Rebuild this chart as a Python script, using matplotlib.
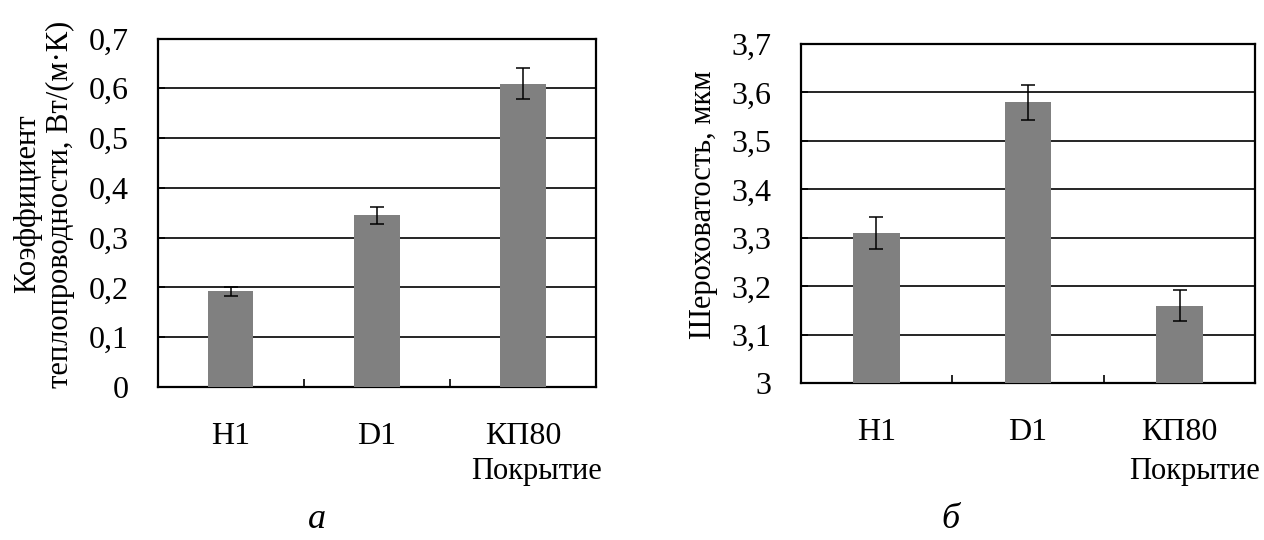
import numpy as np
import matplotlib.pyplot as plt

plt.rcParams["font.family"] = ["Liberation Serif", "DejaVu Serif"]
plt.rcParams.update({'font.size': 23})

coatings = ["H1", "D1", "КП80"]

# thermal conductivity, W/(m*K)
conductivity = [0.192, 0.345, 0.609]
conductivity_err = [0.009, 0.0175, 0.031]

# roughness, um
roughness = [3.31, 3.58, 3.16]
roughness_err = [0.033, 0.036, 0.032]

bar_color = '#808080'
x = np.arange(len(coatings))

fig = plt.figure(figsize=(12.64, 5.4), dpi=100)
ax1 = fig.add_axes([0.1248, 0.2833, 0.3467, 0.6454])
ax2 = fig.add_axes([0.6335, 0.2902, 0.3596, 0.6283])


def draw_panel(ax, values, errors, ymin, ymax):
    ax.bar(x, np.array(values) - ymin, bottom=ymin, width=0.31, color=bar_color, zorder=3)
    ax.errorbar(x, values, yerr=errors, fmt='none', ecolor='black', elinewidth=1.1,
                capsize=5, capthick=1.1, zorder=4)
    ax.set_xlim(-0.5, 2.5)
    ax.set_ylim(ymin, ymax)
    ax.set_yticks(np.round(np.arange(ymin, ymax + 0.001, 0.1), 1))
    ax.set_yticklabels([('%g' % t).replace('.', ',') for t in ax.get_yticks()])
    ax.set_xticks(x)
    ax.set_xticklabels(coatings)
    ax.set_xticks([0.5, 1.5], minor=True)
    ax.tick_params(axis='x', which='major', length=0, pad=25)
    ax.tick_params(axis='x', which='minor', direction='in', length=6, width=1.2)
    ax.tick_params(axis='y', direction='in', length=5, width=1.2, pad=21)
    ax.grid(True, axis='y', color='black', linewidth=1.2, zorder=1)
    ax.set_axisbelow(True)
    for sp in ax.spines.values():
        sp.set_linewidth(1.6)
        sp.set_color('black')


draw_panel(ax1, conductivity, conductivity_err, 0.0, 0.7)
draw_panel(ax2, roughness, roughness_err, 3.0, 3.7)

# axis titles
fig.text(44 / 1264, 1 - 204 / 540, "Коэффициент\nтеплопроводности, Вт/(м·К)",
         rotation=90, ha='center', va='center', linespacing=1.2, fontsize=22)
fig.text(704 / 1264, 1 - 205 / 540, "Шероховатость, мкм",
         rotation=90, ha='center', va='center', fontsize=22)
fig.text(602 / 1264, 1 - 471 / 540, "Покрытие", ha='right', va='center', fontsize=22)
fig.text(1260 / 1264, 1 - 471 / 540, "Покрытие", ha='right', va='center', fontsize=22)

# panel letters
fig.text(317 / 1264, 1 - 520 / 540, "а", ha='center', va='center', fontsize=26, style='italic')
fig.text(950 / 1264, 1 - 520 / 540, "б", ha='center', va='center', fontsize=26, style='italic')

plt.savefig("out.png", dpi=100)
